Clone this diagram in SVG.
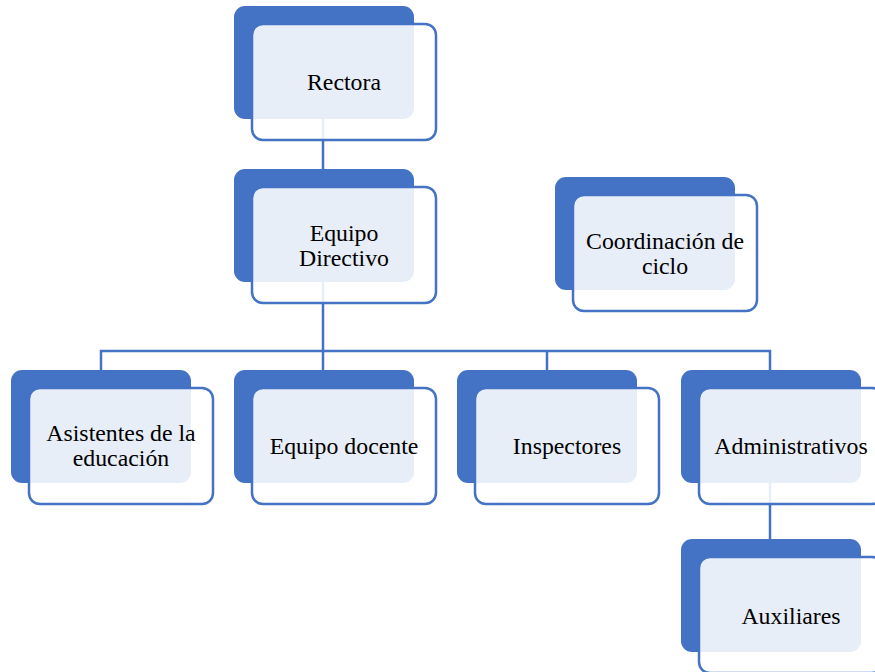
<svg xmlns="http://www.w3.org/2000/svg" width="875" height="672" viewBox="0 0 875 672">
<style>
.back{fill:#4472C4;}
.front{fill:#FFFFFF;fill-opacity:0.88;stroke:#4472C4;stroke-width:2.5;}
.lbl{font-family:"Liberation Serif","Times New Roman",serif;font-size:23.8px;fill:#000;text-anchor:middle;}
.conn{fill:none;stroke:#4472C4;stroke-width:2.5;}
</style>
<rect width="875" height="672" fill="#FFFFFF"/>
<g id="connectors">
<path class="conn" d="M323,119 V169"/>
<path class="conn" d="M323,282 V351"/>
<path class="conn" d="M101,370 V351 H770 V370"/>
<path class="conn" d="M323,351 V370"/>
<path class="conn" d="M547,351 V370"/>
<path class="conn" d="M770,483 V539"/>
</g>
<g id="rectora">
<rect class="back" x="234" y="6" width="180" height="113" rx="11"/>
<rect class="front" x="252" y="24" width="184" height="116" rx="11"/>
<text class="lbl" x="344" y="90">Rectora</text>
</g>
<g id="equipo-directivo">
<rect class="back" x="234" y="169" width="180" height="113" rx="11"/>
<rect class="front" x="252" y="187" width="184" height="116" rx="11"/>
<text class="lbl" x="344" y="241">Equipo</text>
<text class="lbl" x="344" y="266">Directivo</text>
</g>
<g id="coordinacion">
<rect class="back" x="555" y="177" width="180" height="113" rx="11"/>
<rect class="front" x="573" y="195" width="184" height="116" rx="11"/>
<text class="lbl" x="665" y="249">Coordinación de</text>
<text class="lbl" x="665" y="274">ciclo</text>
</g>
<g id="asistentes">
<rect class="back" x="11" y="370" width="180" height="113" rx="11"/>
<rect class="front" x="29" y="388" width="184" height="116" rx="11"/>
<text class="lbl" x="121" y="441">Asistentes de la</text>
<text class="lbl" x="121" y="466">educación</text>
</g>
<g id="equipo-docente">
<rect class="back" x="234" y="370" width="180" height="113" rx="11"/>
<rect class="front" x="252" y="388" width="184" height="116" rx="11"/>
<text class="lbl" x="344" y="454">Equipo docente</text>
</g>
<g id="inspectores">
<rect class="back" x="457" y="370" width="180" height="113" rx="11"/>
<rect class="front" x="475" y="388" width="184" height="116" rx="11"/>
<text class="lbl" x="567" y="454">Inspectores</text>
</g>
<g id="administrativos">
<rect class="back" x="681" y="370" width="180" height="113" rx="11"/>
<rect class="front" x="699" y="388" width="184" height="116" rx="11"/>
<text class="lbl" x="791" y="454">Administrativos</text>
</g>
<g id="auxiliares">
<rect class="back" x="681" y="539" width="180" height="113" rx="11"/>
<rect class="front" x="699" y="557" width="184" height="116" rx="11"/>
<text class="lbl" x="791" y="624">Auxiliares</text>
</g>
</svg>
